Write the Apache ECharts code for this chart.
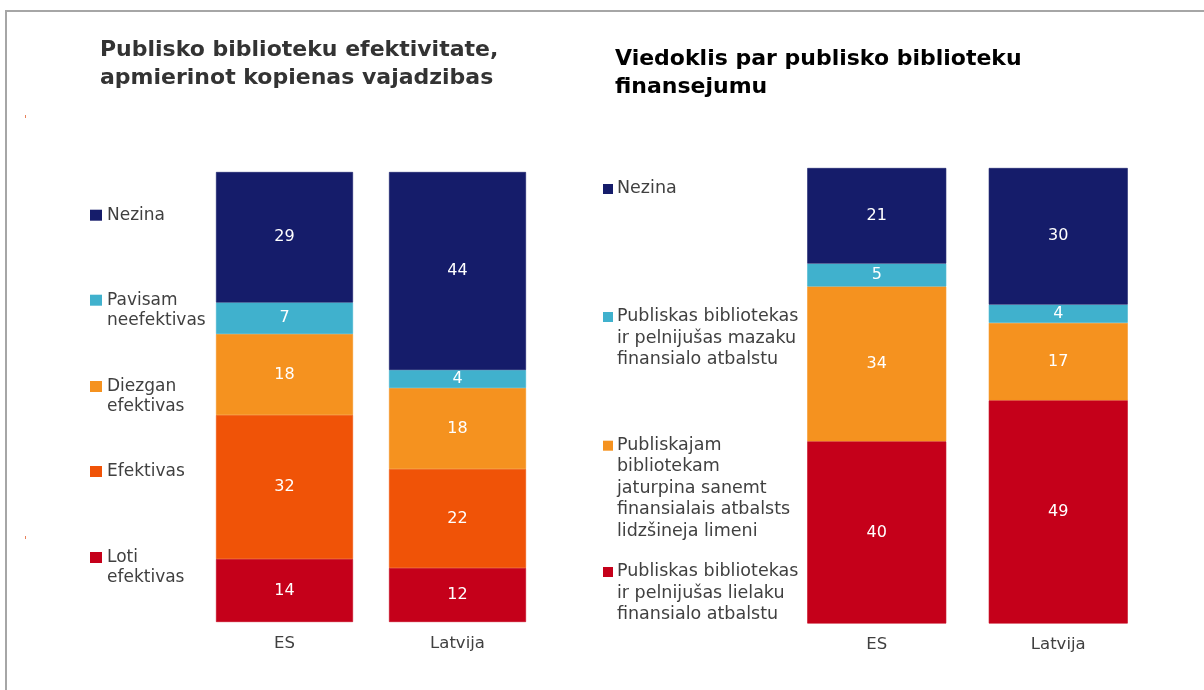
<!DOCTYPE html>
<html>
<head>
<meta charset="utf-8">
<script src="https://cdn.jsdelivr.net/npm/echarts@6/dist/echarts.min.js"></script>
<style>
html,body{margin:0;padding:0;background:#fff;}
#chart{width:1204px;height:690px;}
</style>
</head>
<body>
<div id="chart"></div>
<script>
// ---- Data ----
var categories = ['ES', 'Latvija'];

// Left panel: Publisko biblioteku efektivitate
var leftTitle = 'Publisko biblioteku efektivitate,\napmierinot kopienas vajadzibas';
var leftNames = ['Loti\nefektivas', 'Efektivas', 'Diezgan\nefektivas', 'Pavisam\nneefektivas', 'Nezina'];
var lotiEfektivas = [14, 12];
var efektivas = [32, 22];
var diezganEfektivas = [18, 18];
var pavisamNeefektivas = [7, 4];
var nezinaLeft = [29, 44];

// Right panel: Viedoklis par publisko biblioteku finansejumu
var rightTitle = 'Viedoklis par publisko biblioteku\nfinansejumu';
var rightNames = [
  'Publiskas bibliotekas\nir pelnijušas lielaku\nfinansialo atbalstu',
  'Publiskajam\nbibliotekam\njaturpina sanemt\nfinansialais atbalsts\nlidzšineja limeni',
  'Publiskas bibliotekas\nir pelnijušas mazaku\nfinansialo atbalstu',
  'Nezina'
];
var lielakuAtbalstu = [40, 49];
var turpinaAtbalstu = [34, 17];
var mazakuAtbalstu = [5, 4];
var nezinaRight = [21, 30];

var leftColors = ['#c5001a', '#f05307', '#f5921f', '#40b1cd', '#151c6a'];
var rightColors = ['#c5001a', '#f5921f', '#40b1cd', '#151c6a'];

// ---- Build ----
var chart = echarts.init(document.getElementById('chart'), null, {renderer: 'canvas'});
var FONT = "'DejaVu Sans'";

var leftData = [lotiEfektivas, efektivas, diezganEfektivas, pavisamNeefektivas, nezinaLeft];
var rightData = [lielakuAtbalstu, turpinaAtbalstu, mazakuAtbalstu, nezinaRight];

function makeSeries(names, data, colors, axisIdx, stack, bw) {
  return names.map(function (n, i) {
    return {
      name: n,
      type: 'bar',
      stack: stack,
      xAxisIndex: axisIdx,
      yAxisIndex: axisIdx,
      barWidth: bw,
      data: data[i],
      itemStyle: {color: colors[i], borderColor: colors[i], borderWidth: 0.6},
      label: {
        show: true,
        position: 'inside',
        color: '#ffffff',
        fontFamily: FONT,
        fontSize: 16
      },
      emphasis: {disabled: true}
    };
  });
}

var series = makeSeries(leftNames, leftData, leftColors, 0, 'L', 137)
  .concat(makeSeries(rightNames, rightData, rightColors, 1, 'R', 139));

// legend graphics
var graphics = [];
// frame
graphics.push({type: 'rect', shape: {x: 5, y: 10, width: 2, height: 690}, style: {fill: '#a6a6a6'}, silent: true});
graphics.push({type: 'rect', shape: {x: 5, y: 10, width: 1204, height: 2}, style: {fill: '#a6a6a6'}, silent: true});
// small tick marks at left
graphics.push({type: 'rect', shape: {x: 25, y: 115, width: 1, height: 3}, style: {fill: '#e8825a'}, silent: true});
graphics.push({type: 'rect', shape: {x: 25, y: 536, width: 1, height: 3}, style: {fill: '#e8825a'}, silent: true});

var leftBaselines = [564, 478, 393, 306.7, 221.7];
leftNames.forEach(function (n, i) {
  var b = leftBaselines[i];
  graphics.push({type: 'rect', shape: {x: 90, y: b - 12, width: 12, height: 11}, style: {fill: leftColors[i]}, silent: true});
  graphics.push({type: 'text', style: {text: n, x: 107, y: b - 16, fontFamily: FONT, fontSize: 17, lineHeight: 20, fill: '#404040', verticalAlign: 'top', align: 'left'}, silent: true});
});
var rightBaselines = [578, 451.7, 323, 195];
rightNames.forEach(function (n, i) {
  var b = rightBaselines[i];
  graphics.push({type: 'rect', shape: {x: 603, y: b - 11, width: 10, height: 10}, style: {fill: rightColors[i]}, silent: true});
  graphics.push({type: 'text', style: {text: n, x: 617, y: b - 17, fontFamily: FONT, fontSize: 17.5, lineHeight: 21.5, fill: '#404040', verticalAlign: 'top', align: 'left'}, silent: true});
});

var axisLabelStyle = {color: '#404040', fontFamily: FONT, fontSize: 16.5, margin: 13};

var option = {
  animation: false,
  backgroundColor: '#ffffff',
  title: [
    {text: leftTitle, left: 100, top: 36, padding: 0,
     textStyle: {fontFamily: FONT, fontSize: 22, fontWeight: 'bold', color: '#333333', lineHeight: 28}},
    {text: rightTitle, left: 615, top: 45, padding: 0,
     textStyle: {fontFamily: FONT, fontSize: 22, fontWeight: 'bold', color: '#000000', lineHeight: 28}}
  ],
  grid: [
    {left: 198, top: 172, width: 346, height: 450},
    {left: 786, top: 168, width: 363, height: 455.5}
  ],
  xAxis: [
    {type: 'category', gridIndex: 0, data: categories, axisLine: {show: false}, axisTick: {show: false}, axisLabel: axisLabelStyle},
    {type: 'category', gridIndex: 1, data: categories, axisLine: {show: false}, axisTick: {show: false}, axisLabel: axisLabelStyle}
  ],
  yAxis: [
    {type: 'value', gridIndex: 0, min: 0, max: 100, show: false, splitLine: {show: false}},
    {type: 'value', gridIndex: 1, min: 0, max: 100, show: false, splitLine: {show: false}}
  ],
  series: series,
  graphic: graphics
};
chart.setOption(option);
</script>
</body>
</html>
